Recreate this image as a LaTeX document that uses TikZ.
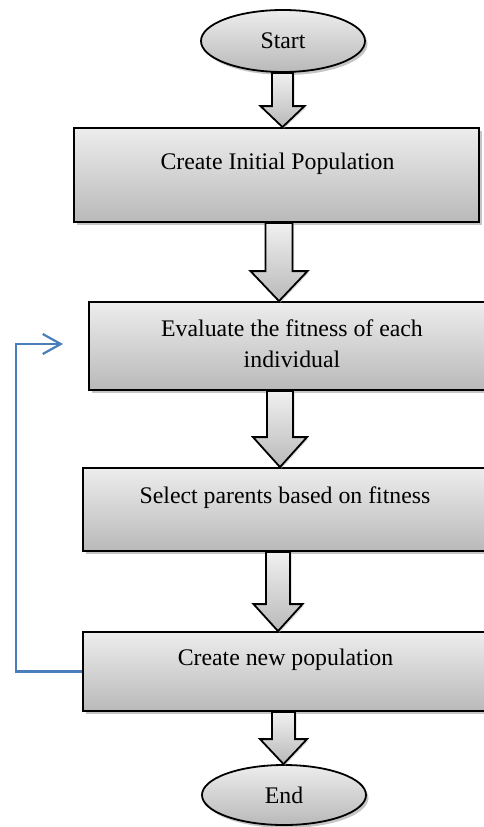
\documentclass[tikz,border=0pt]{standalone}
\usepackage{fontspec}
\setmainfont{Liberation Serif}
\usetikzlibrary{arrows.meta, calc, shapes.geometric, shadows}
\definecolor{shadetop}{HTML}{EDEDED}
\definecolor{shadebot}{HTML}{B9B9B9}
\definecolor{loopblue}{HTML}{4A7EBB}

% hollow block arrow from one node down to the next:
% #1 from, #2 to, #3 x of axis, #4 half shaft, #5 half head, #6 head length
\newcommand{\blockarr}[6]{%
  \path[fatarr] let \p1=(#1.south), \p2=(#2.north) in
    ({#3pt-#4pt},\y1) -- ({#3pt-#4pt},{\y2+#6pt}) -- ({#3pt-#5pt},{\y2+#6pt})
    -- (#3pt,\y2) -- ({#3pt+#5pt},{\y2+#6pt}) -- ({#3pt+#4pt},{\y2+#6pt})
    -- ({#3pt+#4pt},\y1) -- cycle;}

\begin{document}
\begin{tikzpicture}[
  x=1pt, y=-1pt,
  box/.style={draw=black, line width=1.8pt, top color=shadetop, bottom color=shadebot,
              drop shadow={shadow xshift=2.5pt, shadow yshift=-3pt, fill=black!45},
              inner sep=0pt},
  term/.style={box, ellipse, minimum width=164pt, minimum height=62pt,
               font=\fontsize{23.8}{31}\selectfont},
  txt/.style={font=\fontsize{23.8}{31}\selectfont, align=center, inner sep=0pt, anchor=base},
  fatarr/.style={draw=black, line width=1.8pt, line join=miter,
                 top color=shadetop!80!white, bottom color=shadebot,
                 drop shadow={shadow xshift=1.5pt, shadow yshift=-1.5pt, fill=black!30}},
  loop/.style={draw=loopblue, line width=2.2pt, -{Straight Barb[length=18pt, width=20pt, line width=2.2pt]}}
]
  \useasboundingbox (0,0) rectangle (484,827);
  \clip (0,0) rectangle (484,827);

  % terminals and steps
  \node[term] (start) at (283,41) {Start};
  \node[box, minimum width=405pt, minimum height=94pt] (init) at (276.5,175) {};
  \node[box, minimum width=406pt, minimum height=88pt] (eval) at (292,346) {};
  \node[box, minimum width=404pt, minimum height=83pt] (select) at (285,509.5) {};
  \node[box, minimum width=405pt, minimum height=79pt] (newpop) at (285.5,671.5) {};
  \node[term, minimum height=60pt] (end) at (284,795) {End};

  % step texts
  \node[txt] (inittxt) at (277.5,169) {Create Initial Population};
  \node[txt] (evaltxt) at (292,367) {Evaluate the fitness of each\\individual};
  \node[txt] (selecttxt) at (285,503) {Select parents based on fitness};
  \node[txt] (newpoptxt) at (285.5,665) {Create new population};

  % block arrows
  \blockarr{start}{init}{282.5}{10.5}{22}{21}
  \blockarr{init}{eval}{279}{13.5}{28.5}{30}
  \blockarr{eval}{select}{280}{13}{27}{30}
  \blockarr{select}{newpop}{278}{12}{24.5}{27}
  \blockarr{newpop}{end}{283.5}{11.5}{23.5}{25}

  % loop back
  \coordinate (loopend) at (63,344);
  \draw[loop] (newpop.west) -- ++(-66,0) |- (loopend);
\end{tikzpicture}
\end{document}
